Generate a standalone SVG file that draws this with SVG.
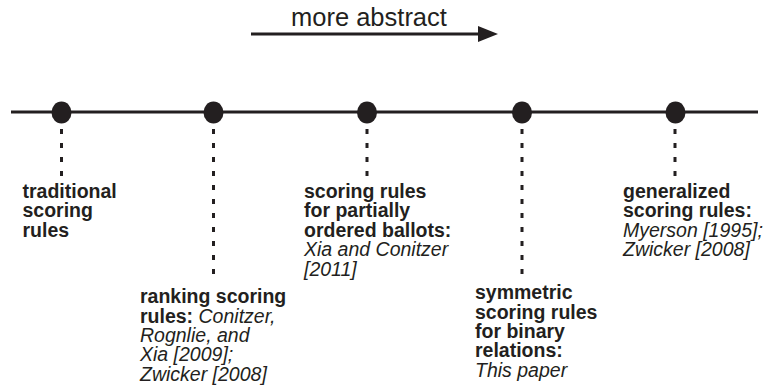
<svg xmlns="http://www.w3.org/2000/svg" width="766" height="385" viewBox="0 0 766 385">
<defs>
<style>
.ln{stroke:#231f20;stroke-width:3;fill:none}
.dot{fill:#231f20}
.dash{stroke:#231f20;stroke-width:3;stroke-dasharray:5 9;fill:none}
text{font-family:"Liberation Sans",Arial,Helvetica,sans-serif;fill:#231f20}
.b{font-weight:bold;font-size:19.5px}
.i{font-style:italic;font-weight:normal}
.t{font-size:25.5px}
</style>
</defs>
<rect width="766" height="385" fill="#fff"/>
<g id="connectors">
<line class="ln" x1="251" y1="34" x2="482" y2="34"/>
<polygon class="dot" points="478,26 498,34 478,42"/>
<line class="ln" x1="11" y1="112" x2="758" y2="112"/>
<line class="dash" x1="61.5" y1="129" x2="61.5" y2="176"/>
<line class="dash" x1="213.5" y1="129" x2="213.5" y2="277"/>
<line class="dash" x1="367" y1="129" x2="367" y2="176"/>
<line class="dash" x1="522" y1="129" x2="522" y2="277"/>
<line class="dash" x1="675" y1="129" x2="675" y2="176"/>
</g>
<g id="title"><text class="t" x="291" y="26">more abstract</text></g>
<g id="n1">
<ellipse class="dot" cx="61.5" cy="112.5" rx="10" ry="11"/>
<text class="b" x="22.5"><tspan x="22.5" y="198">traditional</tspan><tspan x="22.5" y="217.4">scoring</tspan><tspan x="22.5" y="236.8">rules</tspan></text>
</g>
<g id="n2">
<ellipse class="dot" cx="213.5" cy="112.5" rx="10" ry="11"/>
<text class="b" x="140"><tspan x="140" y="303.3">ranking scoring</tspan><tspan x="140" y="322.7">rules: <tspan class="i">Conitzer,</tspan></tspan><tspan class="i" x="140" y="342">Rognlie, and</tspan><tspan class="i" x="140" y="361.4">Xia [2009];</tspan><tspan class="i" x="140" y="380.7">Zwicker [2008]</tspan></text>
</g>
<g id="n3">
<ellipse class="dot" cx="367" cy="112.5" rx="10" ry="11"/>
<text class="b" x="304"><tspan x="304" y="198">scoring rules</tspan><tspan x="304" y="217.4">for partially</tspan><tspan x="304" y="236.8">ordered ballots:</tspan><tspan class="i" x="304" y="256.2">Xia and Conitzer</tspan><tspan class="i" x="304" y="275.6">[2011]</tspan></text>
</g>
<g id="n4">
<ellipse class="dot" cx="522" cy="112.5" rx="10" ry="11"/>
<text class="b" x="475"><tspan x="475" y="299.3">symmetric</tspan><tspan x="475" y="318.7">scoring rules</tspan><tspan x="475" y="338">for binary</tspan><tspan x="475" y="357.4">relations:</tspan><tspan class="i" x="475" y="376.7">This paper</tspan></text>
</g>
<g id="n5">
<ellipse class="dot" cx="675.5" cy="112.5" rx="10" ry="11"/>
<text class="b" x="623"><tspan x="623" y="198">generalized</tspan><tspan x="623" y="217.4">scoring rules:</tspan><tspan class="i" x="623" y="236.8">Myerson [1995];</tspan><tspan class="i" x="623" y="256.2">Zwicker [2008]</tspan></text>
</g>
</svg>
